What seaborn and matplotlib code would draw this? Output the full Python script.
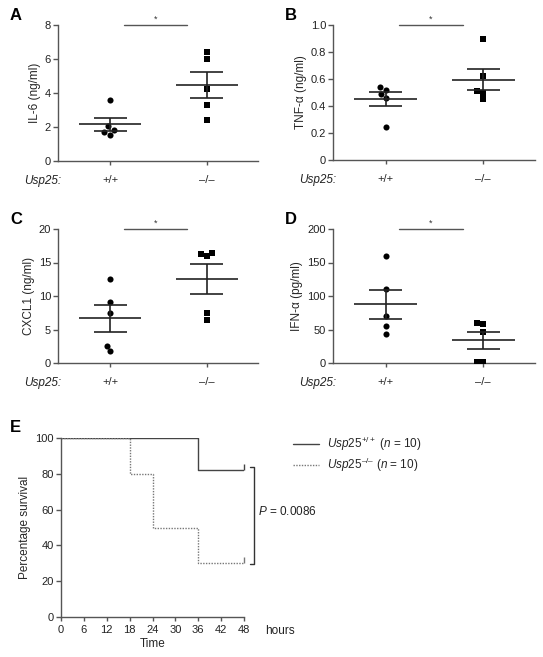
import numpy as np
import matplotlib
matplotlib.use("Agg")
import matplotlib.pyplot as plt
import seaborn as sns

# genotype categories
genotypes = ["+/+", "\u2013/\u2013"]

# cytokine values per mouse
il6_wt = [3.6, 2.05, 1.85, 1.7, 1.55]
il6_ko = [6.4, 6.0, 4.25, 3.3, 2.4]
tnf_wt = [0.54, 0.52, 0.49, 0.46, 0.245]
tnf_ko = [0.90, 0.62, 0.51, 0.50, 0.45]
cxcl1_wt = [12.5, 9.1, 7.5, 2.6, 1.8]
cxcl1_ko = [16.4, 16.3, 15.9, 7.5, 6.4]
ifn_wt = [160, 110, 70, 55, 43]
ifn_ko = [60, 58, 46, 2, 2]

# survival curves
wt_time = [0, 36, 48]
wt_surv = [100, 82, 82]
ko_time = [0, 18, 24, 36, 48]
ko_surv = [100, 80, 50, 30, 30]
surv_ticks = [0, 6, 12, 18, 24, 30, 36, 42, 48]
p_value = "0.0086"

sns.set_theme(style="ticks")
plt.rcParams["font.family"] = ["Liberation Sans", "DejaVu Sans"]
plt.rcParams["mathtext.fontset"] = "custom"
plt.rcParams["mathtext.rm"] = "Liberation Sans"
plt.rcParams["mathtext.it"] = "Liberation Sans:italic"

AX_COL = "#555555"
FS = 8
LFS = 8.5

W, H = 543, 657
fig = plt.figure(figsize=(W / 100, H / 100), dpi=100)


def box(l, t, r, b):
    return [l / W, 1 - b / H, (r - l) / W, (b - t) / H]


def style_axes(ax):
    sns.despine(ax=ax)
    for s in ("left", "bottom"):
        ax.spines[s].set_color(AX_COL)
        ax.spines[s].set_linewidth(1.0)
    ax.tick_params(colors=AX_COL, labelcolor="#222222", labelsize=FS, width=1.0)


def dot_panel(rect, wt, ko, ylim, yticks, ylabel, letter, tick_fmt):
    ax = fig.add_axes(box(*rect))
    sns.swarmplot(x=[genotypes[0]] * len(wt), y=wt, order=genotypes, ax=ax,
                  color="black", marker="o", size=4.4, linewidth=0)
    sns.swarmplot(x=[genotypes[1]] * len(ko), y=ko, order=genotypes, ax=ax,
                  color="black", marker="s", size=4.4, linewidth=0)
    for i, vals in enumerate([wt, ko]):
        v = np.array(vals, dtype=float)
        m = v.mean()
        se = v.std(ddof=1) / np.sqrt(len(v))
        ax.hlines(m, i - 0.32, i + 0.32, color="#222222", lw=1.2, zorder=3)
        ax.hlines([m - se, m + se], i - 0.17, i + 0.17, color="#222222", lw=1.2, zorder=3)
        ax.vlines(i, m - se, m + se, color="#222222", lw=1.2, zorder=3)
    # significance bar
    top = ylim[1]
    ax.plot([0.14, 0.79], [top, top], color=AX_COL, lw=1.0, clip_on=False)
    ax.text(0.465, top * 1.01, "*", ha="center", va="bottom", fontsize=6.5,
            color="#333333")
    ax.set_xlim(-0.54, 1.53)
    ax.set_ylim(*ylim)
    ax.set_yticks(yticks)
    ax.set_yticklabels([tick_fmt(t) for t in yticks])
    ax.set_xlabel("")
    ax.set_ylabel(ylabel, fontsize=LFS, labelpad=3)
    style_axes(ax)
    ax.tick_params(axis="x", length=3, pad=7)
    ax.tick_params(axis="y", length=3.5, pad=1.5)
    ax.annotate("Usp25:", xy=(0, 0), xycoords="axes fraction", xytext=(3, -20),
                textcoords="offset pixels", ha="right", va="center",
                fontsize=LFS, style="italic", color="#222222")
    ax.annotate(letter, xy=(0, 1), xycoords="axes fraction", xytext=(-48, 10),
                textcoords="offset pixels", ha="left", va="center",
                fontsize=12, fontweight="bold", color="black")
    return ax


dot_panel((58, 25, 258, 161), il6_wt, il6_ko, (0, 8), [0, 2, 4, 6, 8],
          "IL-6 (ng/ml)", "A", lambda t: f"{t:g}")
dot_panel((333, 25, 535, 160), tnf_wt, tnf_ko, (0, 1.0), [0, 0.2, 0.4, 0.6, 0.8, 1.0],
          "TNF-\u03b1 (ng/ml)", "B", lambda t: "0" if t == 0 else f"{t:.1f}")
dot_panel((58, 229, 258, 363), cxcl1_wt, cxcl1_ko, (0, 20), [0, 5, 10, 15, 20],
          "CXCL1 (ng/ml)", "C", lambda t: f"{t:g}")
dot_panel((333, 229, 535, 363), ifn_wt, ifn_ko, (0, 200), [0, 50, 100, 150, 200],
          "IFN-\u03b1 (pg/ml)", "D", lambda t: f"{t:g}")

# survival panel
ax = fig.add_axes(box(61, 438, 244, 617))
sns.lineplot(x=wt_time, y=wt_surv, ax=ax, drawstyle="steps-post", color="#444444",
             lw=1.0, estimator=None, sort=False,
             label=r"$\mathit{Usp25}^{+/+}$ ($\mathit{n}$ = 10)")
sns.lineplot(x=ko_time, y=ko_surv, ax=ax, drawstyle="steps-post", color="#777777",
             lw=1.0, estimator=None, sort=False, linestyle=(0, (1, 1)),
             label="$\\mathit{Usp25}^{\u2013/\u2013}$ ($\\mathit{n}$ = 10)")
ax.plot(wt_time[-1], wt_surv[-1], marker=2, ms=4, mew=1.0, color="#444444", clip_on=False)
ax.plot(ko_time[-1], ko_surv[-1], marker=2, ms=4, mew=1.0, color="#777777", clip_on=False)
ax.set_xlim(0, 48)
ax.set_ylim(0, 100)
ax.set_xticks(surv_ticks)
ax.set_yticks([0, 20, 40, 60, 80, 100])
ax.set_xlabel("Time", fontsize=LFS, labelpad=2)
ax.set_ylabel("Percentage survival", fontsize=LFS, labelpad=3)
style_axes(ax)
ax.tick_params(axis="x", length=3, pad=3)
ax.tick_params(axis="y", length=3.5, pad=1.5)
ax.annotate("hours", xy=(1, 0), xycoords="axes fraction", xytext=(21, -14),
            textcoords="offset pixels", ha="left", va="center", fontsize=LFS,
            color="#222222")
ax.annotate("E", xy=(0, 1), xycoords="axes fraction", xytext=(-51, 10),
            textcoords="offset pixels", ha="left", va="center",
            fontsize=12, fontweight="bold", color="black")

# bracket for the log-rank P value
bx = 50.5
ax.plot([bx - 1, bx, bx, bx - 1], [wt_surv[-1] + 2, wt_surv[-1] + 2,
        ko_surv[-1] - 0.5, ko_surv[-1] - 0.5], color="#333333", lw=1.0, clip_on=False)
ax.text(bx + 1.3, (wt_surv[-1] + ko_surv[-1]) / 2 + 3, f"$\\mathit{{P}}$ = {p_value}",
        ha="left", va="center", fontsize=LFS, color="#222222")

ax.legend(loc="upper left", bbox_to_anchor=(293 / W, 1 - 435 / H),
          bbox_transform=fig.transFigure, frameon=False, fontsize=LFS,
          handlelength=2.2, handletextpad=0.7, labelspacing=0.25,
          borderpad=0, borderaxespad=0)

fig.savefig("out.png", dpi=100)
